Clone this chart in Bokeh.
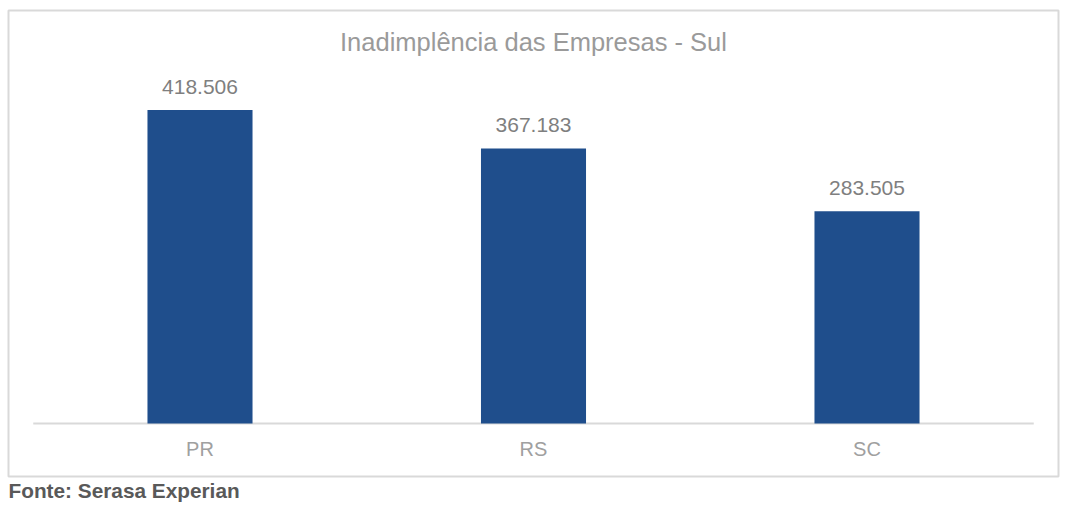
from bokeh.plotting import figure
from bokeh.models import Range1d, FixedTicker, Label, Title, LinearAxis, ColumnDataSource
from bokeh.core.properties import value
from bokeh.embed import file_html
from bokeh.resources import INLINE

categories = ["PR", "RS", "SC"]
values = [418506, 367183, 283505]
title_text = "Inadimplência das Empresas - Sul"
source_text = "Fonte: Serasa Experian"

FONT = "Liberation Sans"
BAR_COLOR = "#1F4E8C"

xs = list(range(len(categories)))
value_labels = [f"{v:,}".replace(",", ".") for v in values]
src = ColumnDataSource(dict(x=xs, top=values, label=value_labels))

p = figure(width=1060, height=504, output_backend="svg", toolbar_location=None,
           x_range=Range1d(-0.5742, 2.5742), y_range=Range1d(-70755, 551355),
           x_axis_location=None, y_axis_location=None,
           min_border_left=8, min_border_right=2, min_border_top=10, min_border_bottom=28)
p.outline_line_color = "#d9d9d9"
p.outline_line_width = 2
p.grid.visible = False
p.background_fill_color = "white"
p.border_fill_color = "white"

# baseline
p.segment(x0=[-0.5], x1=[len(categories) - 0.5], y0=[0], y1=[0],
          line_color="#d9d9d9", line_width=2)

p.vbar(x="x", top="top", width=0.315, source=src, fill_color=BAR_COLOR, line_color=None)

p.text(x="x", y="top", text="label", source=src, y_offset=-23,
       text_align="center", text_baseline="alphabetic",
       text_font=value(FONT), text_font_size="21px", text_color="#7f7f7f")

axis = LinearAxis(fixed_location=0, ticker=FixedTicker(ticks=xs),
                  major_label_overrides={i: c for i, c in zip(xs, categories)},
                  axis_line_color=None, major_tick_line_color=None, minor_tick_line_color=None,
                  major_tick_out=0, major_tick_in=0,
                  major_label_text_color="#a0a0a0", major_label_text_font=FONT,
                  major_label_text_font_size="20px", major_label_standoff=14)
p.add_layout(axis, "below")

p.add_layout(Label(x=(len(categories) - 1) / 2, y=551355, y_offset=-31, text=title_text,
                   text_align="center", text_baseline="alphabetic",
                   text_font=FONT, text_font_size="25.5px", text_color="#9a9a9a"))

p.add_layout(Title(text=source_text, align="left", text_font=FONT, text_font_size="20.8px",
                   text_font_style="bold", text_color="#595959", standoff=0, offset=0), "below")

open("out.html", "w").write(file_html(p, INLINE))
